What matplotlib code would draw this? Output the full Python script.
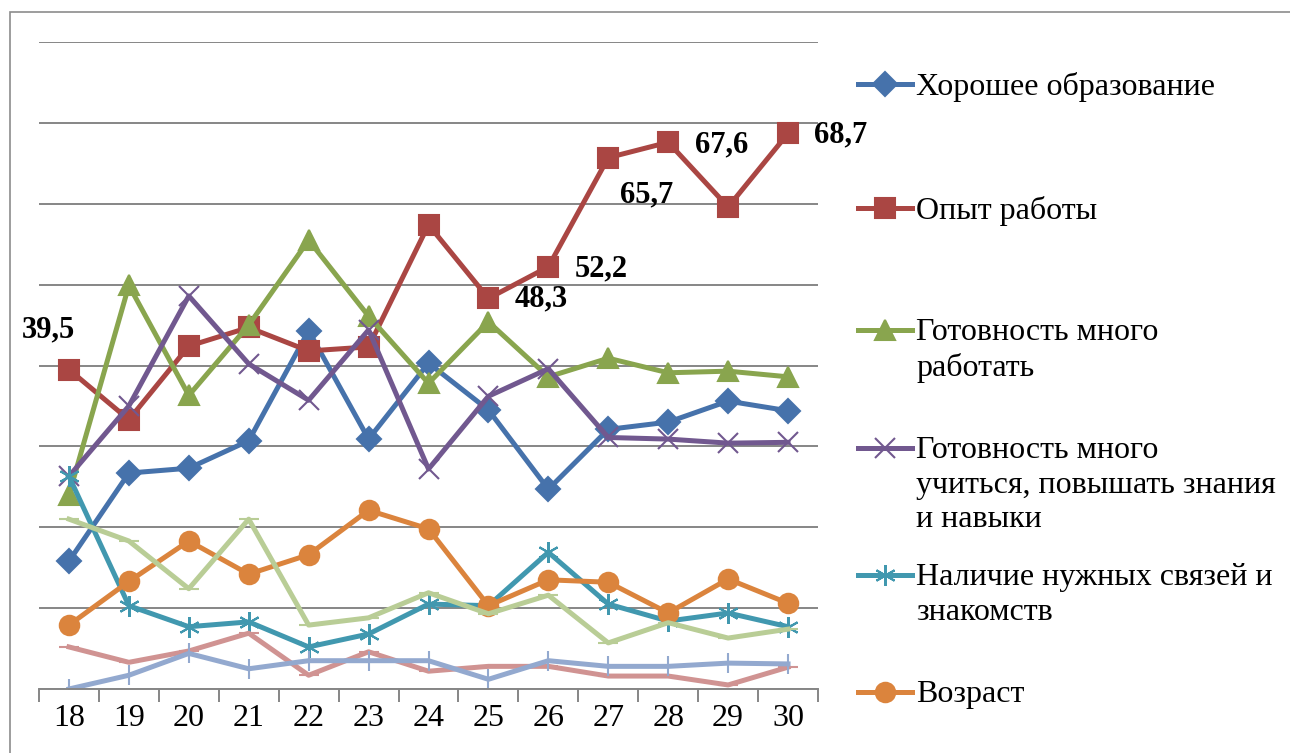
import numpy as np
import matplotlib.pyplot as plt
from matplotlib.lines import Line2D
from matplotlib.patches import Rectangle

plt.rcParams['font.family'] = ['Liberation Serif', 'DejaVu Serif']

ages = list(range(18, 31))

education = [15.8, 26.7, 27.3, 30.7, 44.3, 30.9, 40.3, 34.5, 24.7, 32.1, 33.0, 35.6, 34.4]
experience = [39.5, 33.3, 42.4, 44.7, 41.8, 42.3, 57.4, 48.3, 52.2, 65.7, 67.6, 59.6, 68.7]
work_hard = [24.0, 49.9, 36.3, 45.0, 55.5, 46.1, 37.8, 45.4, 38.6, 40.9, 39.1, 39.3, 38.6]
learn = [26.3, 35.0, 48.6, 40.2, 35.7, 44.4, 27.2, 36.2, 39.6, 31.1, 30.9, 30.4, 30.5]
connections = [26.3, 10.3, 7.7, 8.3, 5.2, 6.8, 10.5, 10.3, 16.9, 10.5, 8.4, 9.4, 7.7]
age_factor = [7.9, 13.3, 18.3, 14.2, 16.6, 22.1, 19.8, 10.3, 13.5, 13.2, 9.4, 13.6, 10.6]
other_a = [21.0, 18.3, 12.4, 21.0, 7.9, 8.8, 11.9, 9.3, 11.6, 5.7, 8.2, 6.3, 7.4]
other_b = [5.2, 3.3, 4.7, 6.9, 1.7, 4.6, 2.2, 2.8, 2.8, 1.6, 1.6, 0.5, 2.7]
other_c = [0.0, 1.7, 4.4, 2.5, 3.5, 3.5, 3.5, 1.2, 3.5, 2.8, 2.8, 3.2, 3.1]

labels = ['Хорошее образование', 'Опыт работы', 'Готовность много\nработать',
          'Готовность много\nучиться, повышать знания\nи навыки',
          'Наличие нужных связей и\nзнакомств', 'Возраст']

# (data, color, marker, markersize, legend label)
series = [
    (education, '#4672AB', 'D', 12, labels[0]),
    (experience, '#AA4643', 's', 15, labels[1]),
    (work_hard, '#89A54E', '^', 15, labels[2]),
    (learn, '#71588F', 'x', 14, labels[3]),
    (connections, '#4198AF', (6, 2, 0), 15, labels[4]),
    (age_factor, '#DB843D', 'o', 14, labels[5]),
    (other_a, '#B9CD96', '_', 14, None),
    (other_b, '#D09392', '_', 14, None),
    (other_c, '#93A9CF', '|', 14, None),
]

fig = plt.figure(figsize=(12.9, 7.53), dpi=100)
fig.patches.append(Rectangle((10 / 1290, -0.1), 1.2, 1 - 12 / 753 + 0.1,
                             transform=fig.transFigure, fill=False,
                             edgecolor='#8C8C8C', linewidth=1.2))
ax = fig.add_axes([39 / 1290, 64 / 753, 779 / 1290, 647 / 753])

for data, color, marker, ms, lab in series:
    ax.plot(ages, data, color=color, linewidth=3.6, marker=marker,
            markersize=ms, markeredgewidth=1.5, markeredgecolor=color,
            markerfacecolor=color, solid_joinstyle='round')

# data labels for experience
label_offsets = {0: (-21, 40), 7: (53, -1), 8: (53, -2), 9: (38, -37), 10: (53, -3), 12: (53, -2)}
for i, (dx, dy) in label_offsets.items():
    ax.annotate(f'{experience[i]:.1f}'.replace('.', ','), (ages[i], experience[i]),
                xytext=(dx, dy), textcoords='offset pixels', ha='center', va='center',
                fontsize=22, fontweight='bold')

ax.set_xlim(17.5, 30.5)
ax.set_ylim(0, 80)
ax.set_yticks(np.arange(0, 81, 10))
ax.yaxis.grid(True, color='#868686', linewidth=1.4)
ax.set_axisbelow(True)
ax.tick_params(axis='y', left=False, labelleft=False)
ax.set_xticks(ages)
ax.set_xticklabels([str(a) for a in ages])
ax.set_xticks(np.arange(17.5, 31, 1), minor=True)
ax.tick_params(axis='x', which='major', length=0, pad=11, labelsize=23)
ax.tick_params(axis='x', which='minor', length=9, width=1.4, color='#868686')
for s in ['top', 'right', 'left']:
    ax.spines[s].set_visible(False)
ax.spines['bottom'].set_color('#868686')
ax.spines['bottom'].set_linewidth(1.4)

# legend on the right, Excel-style slots
leg_y = [84, 208, 330, 448, 575, 692]
for (data, color, marker, ms, lab), y in zip(series[:6], leg_y):
    yf = 1 - y / 753
    fig.add_artist(Line2D([858 / 1290, 912 / 1290], [yf, yf], transform=fig.transFigure,
                          color=color, linewidth=3.6))
    fig.add_artist(Line2D([885 / 1290], [yf], transform=fig.transFigure, color=color,
                          marker=marker, markersize=ms, markeredgewidth=1.5,
                          markerfacecolor=color, markeredgecolor=color))
    fig.text(916 / 1290, yf + 12 / 753, lab, ha='left', va='top', fontsize=23,
             linespacing=1.25)

fig.savefig('out.png', dpi=100)
